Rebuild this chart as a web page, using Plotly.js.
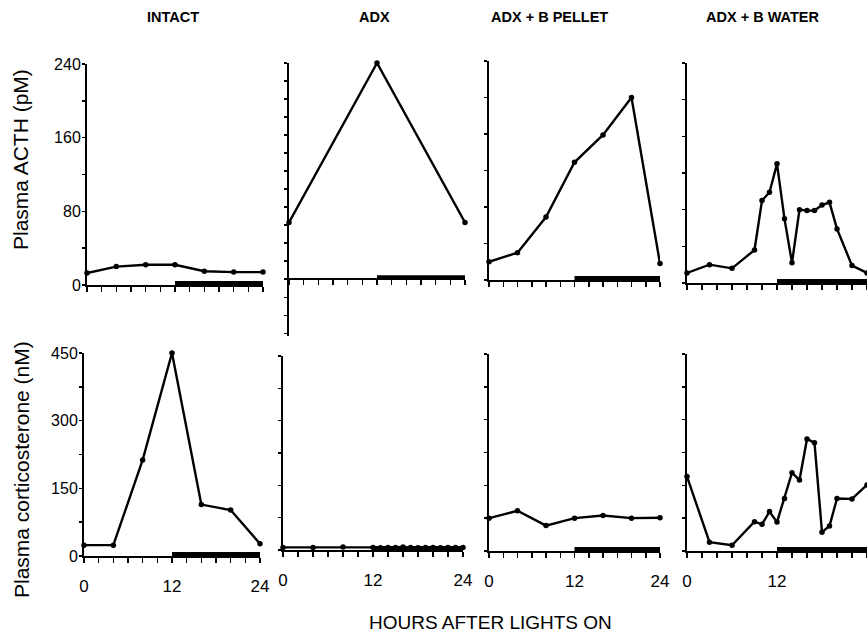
<!DOCTYPE html>
<html>
<head>
<meta charset="utf-8">
<script src="https://cdn.plot.ly/plotly-3.0.1.min.js"></script>
<style>html,body{margin:0;padding:0;background:#fff;}#chart{width:867px;height:640px;}</style>
</head>
<body>
<div id="chart"></div>
<script>
// ---- data ----
const panelTitles = ["INTACT", "ADX", "ADX + B PELLET", "ADX + B WATER"];
const acthTitle = "Plasma ACTH (pM)";
const cortTitle = "Plasma corticosterone (nM)";
const xTitle = "HOURS AFTER LIGHTS ON";
const darkPhase = [12, 24];

const intactHours = [0, 4, 8, 12, 16, 20, 24];
const intactACTH = [13, 20, 22, 22, 15, 14, 14];
const intactCort = [24, 24, 213, 450, 114, 102, 27];

const adxActhHours = [0, 12, 24];
const adxACTH = [63, 240, 63];
const adxCortHours = [0, 4, 8, 12, 13, 14, 15, 16, 17, 18, 19, 20, 21, 22, 23, 24];
const adxCort = [6, 6, 7, 6, 5, 6, 6, 7, 6, 5, 6, 6, 5, 6, 6, 6];

const pelletHours = [0, 4, 8, 12, 16, 20, 24];
const pelletACTH = [20, 30, 69, 129, 159, 200, 18];
const pelletCort = [75, 92, 58, 75, 81, 75, 76];

const waterHours = [0, 3, 6, 9, 10, 11, 12, 13, 14, 15, 16, 17, 18, 19, 20, 22, 24];
const waterACTH = [11, 20, 16, 36, 90, 99, 130, 70, 22, 80, 79, 79, 85, 88, 59, 19, 11];
const waterCort = [170, 20, 13, 67, 61, 90, 66, 120, 179, 162, 256, 247, 43, 57, 120, 119, 151];

const acthTicks = [0, 40, 80, 120, 160, 200, 240];
const acthLabels = ["0", "", "80", "", "160", "", "240"];
const adxActhTicks = [-60, -40, -20, 0, 20, 40, 60, 80, 100, 120, 140, 160, 180, 200, 220, 240];
const cortTicks = [0, 75, 150, 225, 300, 375, 450];
const cortLabels = ["0", "", "150", "", "300", "", "450"];
const hourTicks = [0, 2, 4, 6, 8, 10, 12, 14, 16, 18, 20, 22, 24];
const hourLabels = ["0", "", "", "", "", "", "12", "", "", "", "", "", "24"];

// ---- layout geometry (pixels) ----
const W = 867, H = 640;
const series = [
  {x: intactHours, y: intactACTH},
  {x: adxActhHours, y: adxACTH},
  {x: pelletHours, y: pelletACTH},
  {x: waterHours, y: waterACTH},
  {x: intactHours, y: intactCort},
  {x: adxCortHours, y: adxCort},
  {x: pelletHours, y: pelletCort},
  {x: waterHours, y: waterCort}
];
const panels = [
  {box: [87, 263, 64, 285], yr: [0, 240], top: true, lab: true, ticks: acthTicks, labels: acthLabels},
  {box: [289, 465, 63, 336], yr: [-63, 240], top: true, lab: false, zeroPx: 279, ticks: adxActhTicks},
  {box: [489, 660, 61, 280], yr: [0, 240], top: true, lab: false, ticks: acthTicks},
  {box: [687, 867, 63, 283], yr: [0, 240], top: true, lab: false, ticks: acthTicks},
  {box: [84, 260, 353, 556], yr: [0, 450], top: false, lab: true, ticks: cortTicks, labels: cortLabels},
  {box: [283, 463, 356, 550], yr: [0, 450], top: false, lab: false, ticks: cortTicks},
  {box: [489, 660, 354, 551], yr: [0, 450], top: false, lab: false, ticks: cortTicks},
  {box: [687, 867, 354, 551], yr: [0, 450], top: false, lab: false, ticks: cortTicks}
];

const font = {family: "Arial, 'Liberation Sans', sans-serif", color: "#000"};
const layout = {
  width: W, height: H, autosize: false,
  margin: {l: 0, r: 0, t: 0, b: 0, pad: 0},
  paper_bgcolor: "#fff", plot_bgcolor: "rgba(0,0,0,0)",
  showlegend: false, font: Object.assign({size: 15}, font),
  shapes: [], annotations: []
};
const traces = [];

panels.forEach((p, i) => {
  const n = i + 1;
  const xk = "xaxis" + (n === 1 ? "" : n), yk = "yaxis" + (n === 1 ? "" : n);
  const xr = "x" + (n === 1 ? "" : n), yr = "y" + (n === 1 ? "" : n);
  const [l, r, t, b] = p.box;
  const xa = {
    domain: [l / W, r / W], range: [0, 24], anchor: yr,
    showgrid: false, zeroline: false, showline: true, linecolor: "#000", linewidth: 2,
    ticks: "outside", ticklen: 5, tickwidth: 1.5, tickcolor: "#000",
    tickmode: "array", tickvals: hourTicks,
    ticktext: p.top ? hourTicks.map(() => "") : hourLabels,
    ticklabelstandoff: 9,
    tickfont: Object.assign({size: 17}, font), fixedrange: true
  };
  if (p.zeroPx !== undefined) { xa.anchor = "free"; xa.position = 1 - p.zeroPx / H; }
  const ya = {
    domain: [1 - b / H, 1 - t / H], range: p.yr, anchor: xr,
    showgrid: false, zeroline: false, showline: true, linecolor: "#000", linewidth: 2,
    ticks: "outside", ticklen: 3, tickwidth: 1.5, tickcolor: "#000",
    tickmode: "array", tickvals: p.ticks,
    ticktext: p.lab ? p.labels : p.ticks.map(() => ""),
    ticklabelstandoff: -2,
    tickfont: Object.assign({size: 16}, font), fixedrange: true
  };
  layout[xk] = xa; layout[yk] = ya;
  traces.push({
    type: "scatter", mode: "lines+markers", x: series[i].x, y: series[i].y,
    xaxis: xr, yaxis: yr, cliponaxis: false,
    line: {color: "#000", width: 2.4}, marker: {color: "#000", size: 5.5}
  });
  layout.shapes.push({
    type: "rect", xref: xr, yref: yr, x0: darkPhase[0], x1: darkPhase[1],
    ysizemode: "pixel", yanchor: 0, y0: 0, y1: 4,
    fillcolor: "#000", line: {width: 0}, layer: "above"
  });
});

// panel titles
const titleX = [173, 374, 549, 762];
panelTitles.forEach((s, i) => {
  layout.annotations.push({
    text: "<b>" + s + "</b>", xref: "paper", yref: "paper",
    x: titleX[i] / W, y: 1 - 17 / H, xanchor: "center", yanchor: "middle",
    showarrow: false, font: Object.assign({size: 14.5}, font)
  });
});
layout.annotations.push({
  text: acthTitle, xref: "paper", yref: "paper", x: 20 / W, y: 1 - 160 / H,
  xanchor: "center", yanchor: "middle", textangle: -90, showarrow: false,
  font: Object.assign({size: 21}, font)
});
layout.annotations.push({
  text: cortTitle, xref: "paper", yref: "paper", x: 21 / W, y: 1 - 470 / H,
  xanchor: "center", yanchor: "middle", textangle: -90, showarrow: false,
  font: Object.assign({size: 21}, font)
});
layout.annotations.push({
  text: xTitle, xref: "paper", yref: "paper", x: 490 / W, y: 1 - 622 / H,
  xanchor: "center", yanchor: "middle", showarrow: false,
  font: Object.assign({size: 19}, font)
});

Plotly.newPlot("chart", traces, layout, {displayModeBar: false, staticPlot: true});
</script>
</body>
</html>
